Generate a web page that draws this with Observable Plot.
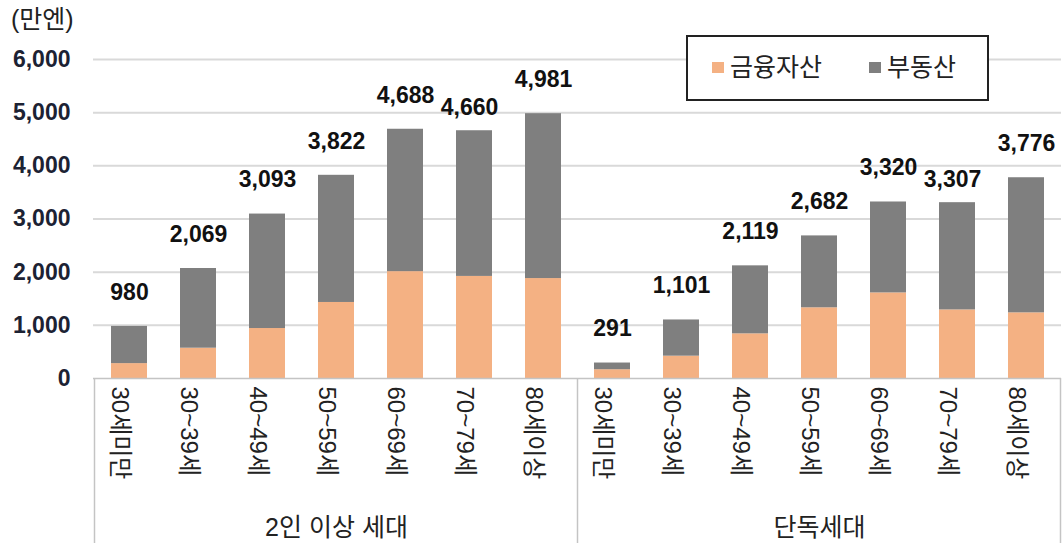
<!DOCTYPE html>
<html>
<head>
<meta charset="utf-8">
<script src="https://cdn.jsdelivr.net/npm/d3@7"></script>
<script src="https://cdn.jsdelivr.net/npm/@observablehq/plot@0.6"></script>
<style>
  body { margin: 0; background: #fff; font-family: "Liberation Sans", "Noto Sans CJK KR", sans-serif; }
  #wrap { position: relative; width: 1064px; height: 543px; }
  #unit { position: absolute; left: 11px; top: 4px; font-size: 25px; line-height: 30px; color: #222; }
  #legend { position: absolute; left: 686px; top: 35px; width: 299px; height: 62px; border: 2px solid #222; background: #fff; box-sizing: content-box; }
  .li { position: absolute; top: 14px; font-size: 25px; line-height: 32px; color: #222; display: flex; align-items: center; }
  .sw { width: 12px; height: 11px; display: inline-block; margin-right: 6px; }
</style>
</head>
<body>
<div id="wrap">
  <div id="chart"></div>
  <div id="unit">(만엔)</div>
  <div id="legend"></div>
</div>
<script>
const groups = ["2인 이상 세대", "단독세대"];
const ages = ["30세미만", "30~39세", "40~49세", "50~59세", "60~69세", "70~79세", "80세이상"];
const seriesNames = ["금융자산", "부동산"];
const seriesColors = ["#F4B183", "#7F7F7F"];
const yTicks = [0, 1000, 2000, 3000, 4000, 5000, 6000];

// 2인 이상 세대
const totalsMulti = [980, 2069, 3093, 3822, 4688, 4660, 4981];
const financialMulti = [280, 570, 940, 1430, 2010, 1920, 1880];
const realEstateMulti = [700, 1499, 2153, 2392, 2678, 2740, 3101];
// 단독세대
const totalsSingle = [291, 1101, 2119, 2682, 3320, 3307, 3776];
const financialSingle = [165, 420, 840, 1330, 1610, 1290, 1235];
const realEstateSingle = [126, 681, 1279, 1352, 1710, 2017, 2541];

const financial = [financialMulti, financialSingle];
const realEstate = [realEstateMulti, realEstateSingle];
const totals = [totalsMulti, totalsSingle];

const keys = [];
const rows = [];
const totalRows = [];
groups.forEach((g, gi) => {
  ages.forEach((a, ai) => {
    const key = g + "|" + a;
    keys.push(key);
    rows.push({key, type: seriesNames[0], value: financial[gi][ai]});
    rows.push({key, type: seriesNames[1], value: realEstate[gi][ai]});
    totalRows.push({key, age: a, total: totals[gi][ai]});
  });
});
const groupLabelRows = groups.map(g => ({key: g + "|" + ages[3], label: g}));

const fmt = d3.format(",");
const font = "Liberation Sans, Noto Sans CJK KR, sans-serif";

const plot = Plot.plot({
  width: 1064,
  height: 543,
  marginTop: 59,
  marginBottom: 165,
  marginLeft: 93,
  marginRight: 3,
  style: {fontFamily: font, background: "#fff"},
  x: {domain: keys, paddingInner: 0.48, paddingOuter: 0.24, label: null},
  y: {domain: [0, 6000], label: null},
  color: {domain: seriesNames, range: seriesColors},
  marks: [
    Plot.gridY(yTicks.slice(1), {stroke: "#d9d9d9", strokeOpacity: 1, strokeWidth: 2}),
    Plot.barY(rows, {x: "key", y: "value", fill: "type", order: seriesNames}),
    Plot.ruleY([0], {stroke: "#c4c4c4", strokeWidth: 1.5}),
    Plot.axisY({ticks: yTicks, tickFormat: fmt, tickSize: 0, tickPadding: 23, fontSize: 23, fontWeight: "bold", fill: "#1c2233", label: null}),
    Plot.axisX({tickFormat: d => d.split("|")[1], tickSize: 0, tickPadding: 8, rotate: 90, textAnchor: "start", fontSize: 24, fill: "#222", label: null}),
    Plot.text(totalRows.filter(d => d.age !== ages[5]), {x: "key", y: "total", text: d => fmt(d.total), dy: -34, fontSize: 23, fontWeight: "bold", fill: "#111"}),
    Plot.text(totalRows.filter(d => d.age === ages[5]), {x: "key", y: "total", text: d => fmt(d.total), dy: -23, dx: -5, fontSize: 23, fontWeight: "bold", fill: "#111"}),
    Plot.text(groupLabelRows, {x: "key", y: 0, text: "label", dy: 149, fontSize: 25, fill: "#222"})
  ]
});

// separator lines below the axis, positioned from Plot's own x scale
const xs = plot.scale("x");
const half = (xs.step - xs.bandwidth) / 2;
const y0 = plot.scale("y").apply(0);
const seps = [
  xs.apply(keys[0]) - half,
  xs.apply(keys[7]) - half,
  xs.apply(keys[keys.length - 1]) + xs.bandwidth + half
];
const g = d3.select(plot).append("g");
seps.forEach(sx => {
  g.append("line").attr("x1", sx).attr("x2", sx).attr("y1", y0).attr("y2", 543)
    .attr("stroke", "#c4c4c4").attr("stroke-width", 1.5);
});
document.getElementById("chart").appendChild(plot);

// legend
const legend = document.getElementById("legend");
const legendLefts = [24, 181];
seriesNames.forEach((name, i) => {
  const item = document.createElement("div");
  item.className = "li";
  item.style.left = legendLefts[i] + "px";
  const sw = document.createElement("span");
  sw.className = "sw";
  sw.style.background = seriesColors[i];
  item.appendChild(sw);
  item.appendChild(document.createTextNode(name));
  legend.appendChild(item);
});
</script>
</body>
</html>
